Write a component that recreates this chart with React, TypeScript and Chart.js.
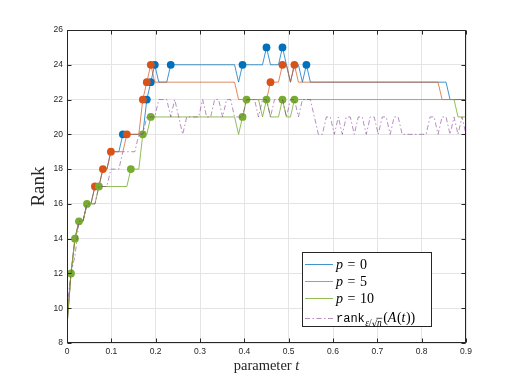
import React, { useEffect, useRef } from 'react';
import { Chart, registerables } from 'chart.js';

Chart.register(...registerables);

// parameter grid t = linspace(0, 0.9, 101)
const paramT: number[] = Array.from({ length: 101 }, (_, k) => Math.round(k * 9) / 1000);

// p = 0
const rankP0 = [
  9, 12, 14, 15, 15, 16, 16, 17, 17, 18,
  18, 19, 19, 19, 20, 20, 20, 20, 20, 20,
  22, 23, 24, 23, 23, 23, 24, 24, 24, 24,
  24, 24, 24, 24, 24, 24, 24, 24, 24, 24,
  24, 24, 24, 23, 24, 24, 24, 24, 24, 24,
  25, 24, 24, 24, 25, 24, 23, 24, 24, 23,
  24, 23, 23, 23, 23, 23, 23, 23, 23, 23,
  23, 23, 23, 23, 23, 23, 23, 23, 23, 23,
  23, 23, 23, 23, 23, 23, 23, 23, 23, 23,
  23, 23, 23, 23, 23, 23, 22, 22, 22, 22,
  22,
];
// p = 5
const rankP5 = [
  9, 12, 14, 15, 15, 16, 16, 17, 17, 18,
  18, 19, 19, 19, 19, 20, 20, 20, 20, 22,
  23, 24, 23, 23, 23, 23, 23, 23, 23, 23,
  23, 23, 23, 23, 23, 23, 23, 23, 23, 23,
  23, 23, 23, 22, 22, 22, 22, 22, 22, 22,
  22, 23, 23, 23, 24, 24, 23, 24, 23, 23,
  23, 23, 23, 23, 23, 23, 23, 23, 23, 23,
  23, 23, 23, 23, 23, 23, 23, 23, 23, 23,
  23, 23, 23, 23, 23, 23, 23, 23, 23, 23,
  23, 23, 23, 23, 22, 22, 22, 22, 22, 22,
  22,
];
// p = 10
const rankP10 = [
  9, 12, 14, 15, 15, 16, 16, 16, 17, 17,
  17, 17, 17, 17, 17, 17, 18, 18, 18, 20,
  20, 21, 21, 21, 21, 21, 21, 21, 21, 21,
  21, 21, 21, 21, 21, 21, 21, 21, 21, 21,
  21, 21, 21, 20, 21, 22, 22, 22, 22, 21,
  22, 21, 21, 21, 22, 21, 21, 22, 22, 22,
  22, 22, 22, 22, 22, 22, 22, 22, 22, 22,
  22, 22, 22, 22, 22, 22, 22, 22, 22, 22,
  22, 22, 22, 22, 22, 22, 22, 22, 22, 22,
  22, 22, 22, 22, 22, 22, 22, 22, 21, 21,
  21,
];
// rank_{eps/sqrt(n)}(A(t))
const rankEps = [
  10, 12, 13, 15, 15, 16, 16, 16, 17, 17,
  17, 18, 18, 18, 19, 19, 19, 19, 20, 20,
  21, 21, 21, 22, 22, 22, 21, 22, 21, 20,
  21, 21, 21, 21, 22, 21, 21, 22, 22, 21,
  22, 22, 21, 21, 21, 22, 22, 22, 21, 22,
  22, 21, 22, 22, 22, 21, 22, 22, 21, 22,
  22, 22, 21, 20, 20, 21, 21, 20, 21, 20,
  21, 21, 20, 21, 21, 20, 21, 21, 20, 21,
  21, 20, 21, 21, 20, 20, 20, 20, 20, 20,
  20, 21, 21, 20, 21, 21, 20, 21, 20, 21,
  20,
];

// sample indices that carry a filled marker
const marksP0 = [14, 20, 21, 22, 26, 44, 50, 54, 60];
const marksP5 = [7, 9, 11, 15, 19, 20, 21, 51, 54, 57];
const marksP10 = [1, 2, 3, 5, 8, 16, 19, 21, 44, 45, 50, 54, 57];

const xTickLabels = ['0', '0.1', '0.2', '0.3', '0.4', '0.5', '0.6', '0.7', '0.8', '0.9'];
const yTickLabels = ['8', '10', '12', '14', '16', '18', '20', '22', '24', '26'];
const seriesLabels = ['p = 0', 'p = 5', 'p = 10', 'rank_{ε/√n}(A(t))'];

const W = 514;
const H = 385;
const AXIS = '#262626';
const SERIF = '"Liberation Serif", "Times New Roman", serif';
const SANS = '"Liberation Sans", Arial, sans-serif';
const MONO = '"Liberation Mono", "DejaVu Sans Mono", monospace';
const lineColors = ['rgba(0,114,189,0.75)', 'rgba(217,83,25,0.7)', 'rgba(119,172,48,0.8)', 'rgba(126,47,142,0.55)'];
const markColors = ['#0072BD', '#D95319', '#77AC30', '#7E2F8E'];
const PURPLE_DASH = [5, 2.5, 1.5, 2.5];

function makeSeries(values: number[], marks: number[], i: number, dash: number[] = []) {
  return {
    label: seriesLabels[i],
    data: values.map((v, k) => ({ x: paramT[k], y: v })),
    borderColor: lineColors[i],
    borderWidth: 1,
    borderDash: dash,
    pointRadius: values.map((_, k) => (marks.includes(k) ? 3.9 : 0)),
    pointHoverRadius: 0,
    pointBackgroundColor: markColors[i],
    pointBorderColor: markColors[i],
    pointBorderWidth: 0,
    fill: false,
    tension: 0,
    order: 4 - i,
  };
}

const decor = {
  id: 'matlabDecor',
  afterDatasetsDraw(chart: any) {
    const { ctx, chartArea: a, scales } = chart;
    const xs = scales.x;
    const ys = scales.y;
    ctx.save();
    ctx.strokeStyle = AXIS;
    ctx.lineWidth = 1;
    ctx.setLineDash([]);
    const L = Math.round(a.left) + 0.5;
    const R = Math.round(a.right) - 0.5;
    const T = Math.round(a.top) + 0.5;
    const B = Math.round(a.bottom) - 0.5;
    ctx.strokeRect(L, T, R - L, B - T);
    ctx.beginPath();
    xs.ticks.forEach((tk: any) => {
      const px = Math.round(xs.getPixelForValue(tk.value)) + 0.5;
      ctx.moveTo(px, B);
      ctx.lineTo(px, B - 4);
      ctx.moveTo(px, T);
      ctx.lineTo(px, T + 4);
    });
    ys.ticks.forEach((tk: any) => {
      const py = Math.round(ys.getPixelForValue(tk.value)) + 0.5;
      ctx.moveTo(L, py);
      ctx.lineTo(L + 4, py);
      ctx.moveTo(R, py);
      ctx.lineTo(R - 4, py);
    });
    ctx.stroke();
    ctx.restore();
  },
  afterDraw(chart: any) {
    const { ctx, chartArea: a } = chart;
    ctx.save();
    ctx.fillStyle = AXIS;
    ctx.textBaseline = 'alphabetic';

    // y title
    ctx.save();
    ctx.translate(44, (a.top + a.bottom) / 2);
    ctx.rotate(-Math.PI / 2);
    ctx.font = `19px ${SERIF}`;
    ctx.textAlign = 'center';
    ctx.fillText('Rank', 0, 0);
    ctx.restore();

    // x title: "parameter t"
    ctx.textAlign = 'left';
    ctx.font = `14.5px ${SERIF}`;
    const w1 = ctx.measureText('parameter ').width;
    ctx.font = `italic 14.5px ${SERIF}`;
    const w2 = ctx.measureText('t').width;
    const tx = (a.left + a.right) / 2 - (w1 + w2) / 2;
    ctx.font = `14.5px ${SERIF}`;
    ctx.fillText('parameter ', tx, 369.5);
    ctx.font = `italic 14.5px ${SERIF}`;
    ctx.fillText('t', tx + w1, 369.5);

    // legend
    const lx = 302, ly = 252, lw = 129, lh = 74;
    ctx.fillStyle = '#ffffff';
    ctx.fillRect(lx, ly, lw, lh);
    ctx.strokeStyle = AXIS;
    ctx.lineWidth = 1;
    ctx.strokeRect(lx + 0.5, ly + 0.5, lw, lh);
    const rowY = [264.5, 281.5, 298.5, 318.5];
    const dashes = [[], [], [], PURPLE_DASH];
    for (let i = 0; i < 4; i++) {
      ctx.strokeStyle = lineColors[i];
      ctx.setLineDash(dashes[i]);
      ctx.beginPath();
      ctx.moveTo(305, rowY[i]);
      ctx.lineTo(333, rowY[i]);
      ctx.stroke();
    }
    ctx.setLineDash([]);
    ctx.fillStyle = '#000000';
    for (let i = 0; i < 3; i++) {
      const [sym, val] = seriesLabels[i].split(' = ');
      let x = 336;
      const y = rowY[i] + 4;
      ctx.font = `italic 14px ${SERIF}`;
      ctx.fillText(sym, x, y);
      x += ctx.measureText(sym).width + 4.5;
      ctx.font = `14px ${SERIF}`;
      ctx.fillText('=', x, y);
      x += ctx.measureText('=').width + 4.5;
      ctx.fillText(val, x, y);
    }
    // rank_{eps/sqrt n}(A(t))
    {
      let x = 336;
      const y = 322;
      ctx.font = `12px ${MONO}`;
      ctx.fillText('rank', x, y);
      x += ctx.measureText('rank').width + 0.5;
      const sy = y + 3.5;
      ctx.font = `italic 9.5px ${SERIF}`;
      ctx.fillText('ε', x, sy);
      x += ctx.measureText('ε').width;
      ctx.font = `9.5px ${SERIF}`;
      ctx.fillText('/', x, sy);
      x += ctx.measureText('/').width;
      ctx.font = `9px "DejaVu Sans", sans-serif`;
      ctx.fillText('√', x, sy + 1);
      x += ctx.measureText('√').width - 0.5;
      const nx = x;
      ctx.font = `italic 9.5px ${SERIF}`;
      ctx.fillText('n', x, sy);
      x += ctx.measureText('n').width + 0.5;
      ctx.strokeStyle = '#000';
      ctx.lineWidth = 0.7;
      ctx.beginPath();
      ctx.moveTo(nx - 0.5, sy - 7.2);
      ctx.lineTo(x, sy - 7.2);
      ctx.stroke();
      x += 1;
      const parts: [string, boolean][] = [['(', false], ['A', true], ['(', false], ['t', true], ['))', false]];
      for (const [s, it] of parts) {
        ctx.font = `${it ? 'italic ' : ''}14px ${SERIF}`;
        ctx.fillText(s, x, y);
        x += ctx.measureText(s).width + (it ? 0.5 : 0);
      }
    }
    ctx.restore();
  },
};

export default function App() {
  const canvasRef = useRef<HTMLCanvasElement | null>(null);

  useEffect(() => {
    if (!canvasRef.current) return;
    const chart = new Chart(canvasRef.current, {
      type: 'line',
      data: {
        datasets: [
          makeSeries(rankP0, marksP0, 0),
          makeSeries(rankP5, marksP5, 1),
          makeSeries(rankP10, marksP10, 2),
          makeSeries(rankEps, [], 3, PURPLE_DASH),
        ] as any,
      },
      options: {
        animation: false,
        responsive: false,
        maintainAspectRatio: false,
        events: [],
        layout: { padding: { left: 0, top: 30, right: 48, bottom: 0 } },
        plugins: { legend: { display: false }, tooltip: { enabled: false }, title: { display: false } },
        scales: {
          x: {
            type: 'linear',
            min: 0,
            max: 0.9,
            ticks: {
              stepSize: 0.1,
              autoSkip: false,
              maxRotation: 0,
              padding: 4,
              color: AXIS,
              font: { family: SANS, size: 8.5 },
              callback: (_v: any, i: number) => xTickLabels[i],
            },
            grid: { color: '#e4e4e4', drawTicks: false },
            border: { display: false },
            afterFit: (s: any) => { s.height = 42; },
          },
          y: {
            type: 'linear',
            min: 8,
            max: 26,
            ticks: {
              stepSize: 2,
              autoSkip: false,
              padding: 4,
              color: AXIS,
              font: { family: SANS, size: 8.5 },
              callback: (_v: any, i: number) => yTickLabels[i],
            },
            grid: { color: '#e4e4e4', drawTicks: false },
            border: { display: false },
            afterFit: (s: any) => { s.width = 67; },
          },
        },
      } as any,
      plugins: [decor],
    });
    return () => chart.destroy();
  }, []);

  return (
    <div style={{ position: 'fixed', left: 0, top: 0, width: W, height: H, background: '#fff' }}>
      <canvas ref={canvasRef} width={W} height={H} style={{ display: 'block', width: W, height: H }} />
    </div>
  );
}
